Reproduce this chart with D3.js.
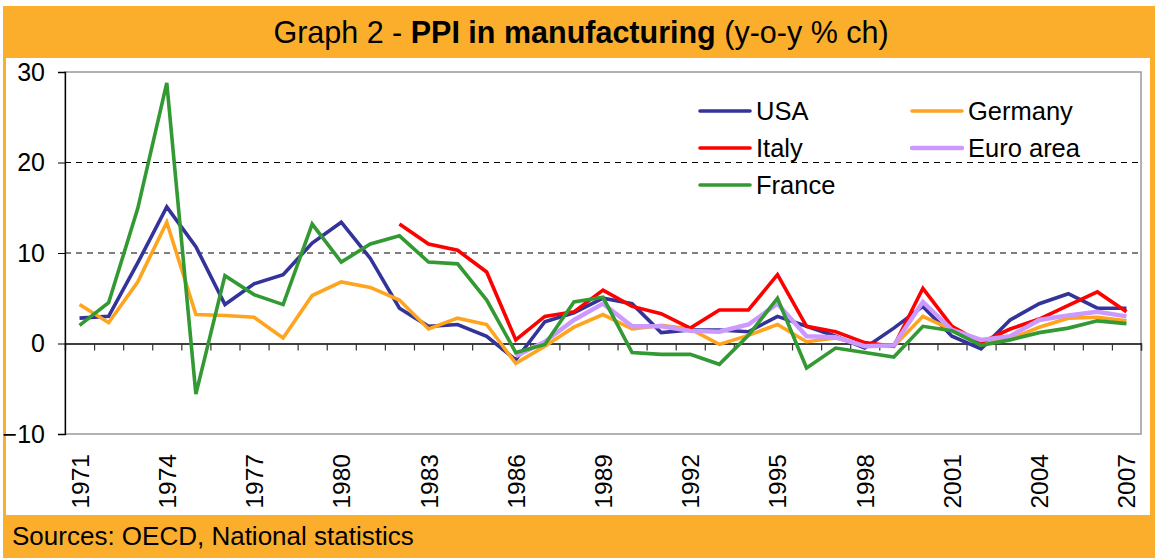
<!DOCTYPE html>
<html>
<head>
<meta charset="utf-8">
<script src="https://cdn.jsdelivr.net/npm/d3@7"></script>
<style>
  body { margin: 0; background: #fff; }
  svg { display: block; font-family: "Liberation Sans", Arial, sans-serif; }
</style>
</head>
<body>
<div id="chart"></div>
<script>
// Data
var years = d3.range(1971, 2008);
var yearLabels = [1971, 1974, 1977, 1980, 1983, 1986, 1989, 1992, 1995, 1998, 2001, 2004, 2007];
var yTicks = [-10, 0, 10, 20, 30];

var usa = [2.8, 3.0, 8.9, 15.1, 10.7, 4.3, 6.6, 7.6, 11.1, 13.4, 9.4, 3.9, 1.9, 2.1, 0.8, -1.8, 2.4, 3.4, 5.0, 4.4,
  1.2, 1.5, 1.5, 1.3, 3.0, 1.9, 0.8, -0.5, 1.7, 4.1, 0.8, -0.6, 2.6, 4.4, 5.5, 3.9, 3.9];
var germany = [4.3, 2.3, 6.8, 13.4, 3.2, 3.1, 2.9, 0.6, 5.3, 6.8, 6.2, 4.8, 1.6, 2.8, 2.1, -2.2, -0.3, 1.8, 3.2, 1.6,
  2.0, 1.6, -0.1, 0.9, 2.1, 0.2, 0.6, -0.2, -0.3, 3.0, 1.5, 0.2, 0.5, 1.8, 2.8, 2.9, 2.5];
var italy = [null, null, null, null, null, null, null, null, null, null, null, 13.2, 11.0, 10.3, 7.9, 0.4, 3.0, 3.5, 5.9, 4.1,
  3.3, 1.7, 3.7, 3.7, 7.6, 1.9, 1.3, 0.1, -0.3, 6.1, 1.9, 0.1, 1.6, 2.7, 4.2, 5.7, 3.5];
var euroArea = [null, null, null, null, null, null, null, null, null, null, null, null, null, null, null, -1.4, 0.2, 2.6, 4.4, 1.9,
  1.9, 1.4, 1.3, 2.1, 4.4, 0.8, 0.7, -0.3, -0.2, 4.6, 1.5, 0.4, 0.8, 2.6, 3.1, 3.5, 3.0];
var france = [2.0, 4.5, 14.9, 28.8, -5.6, 7.5, 5.4, 4.3, 13.2, 9.0, 11.0, 11.9, 9.0, 8.8, 4.8, -1.0, -0.1, 4.6, 5.1, -1.0,
  -1.2, -1.2, -2.3, 0.9, 5.0, -2.7, -0.5, -1.0, -1.5, 1.9, 1.4, -0.2, 0.4, 1.2, 1.7, 2.5, 2.2];

var names = ["USA", "Germany", "Italy", "Euro area", "France"];
var colors = ["#333399", "#FFA41F", "#FF0000", "#CC99FF", "#339933"];
var widths = [3.6, 3.6, 3.6, 4.4, 3.6];
var seriesList = [usa, germany, italy, euroArea, france];

var svgWidth = 1155, svgHeight = 558;
var svg = d3.select("#chart").append("svg")
    .attr("width", svgWidth)
    .attr("height", svgHeight);

// orange frame
svg.append("rect")
    .attr("x", 3).attr("y", 6)
    .attr("width", svgWidth - 3).attr("height", svgHeight - 6)
    .attr("fill", "#FBAE2C");
svg.append("rect")
    .attr("x", 6).attr("y", 58)
    .attr("width", 1144).attr("height", 457)
    .attr("fill", "#fff");

// title
var title = svg.append("text")
    .attr("x", 581).attr("y", 43)
    .attr("text-anchor", "middle")
    .attr("font-size", 30.5)
    .attr("fill", "#000");
title.append("tspan").text("Graph 2 - ");
title.append("tspan").attr("font-weight", "bold").text("PPI in manufacturing");
title.append("tspan").text(" (y-o-y % ch)");

// footer
svg.append("text")
    .attr("x", 12).attr("y", 545)
    .attr("font-size", 26)
    .text("Sources: OECD, National statistics");

// plot area
var plotLeft = 65, plotRight = 1141, plotTop = 72, plotBottom = 434;

var xBand = d3.scaleBand()
    .domain(years)
    .range([plotLeft, plotRight]);
var bw = xBand.bandwidth();
var xCenter = d => xBand(d) + bw / 2;

var y = d3.scaleLinear()
    .domain([-10, 30])
    .range([plotBottom, plotTop]);

// plot border
svg.append("rect")
    .attr("x", plotLeft).attr("y", plotTop)
    .attr("width", plotRight - plotLeft).attr("height", plotBottom - plotTop)
    .attr("fill", "none")
    .attr("stroke", "#999")
    .attr("stroke-width", 1.5);

// dashed gridlines
svg.append("g")
    .selectAll("line")
    .data([10, 20])
    .enter()
    .append("line")
    .attr("x1", plotLeft).attr("x2", plotRight)
    .attr("y1", d => y(d)).attr("y2", d => y(d))
    .attr("stroke", "#000")
    .attr("stroke-width", 1.2)
    .attr("stroke-dasharray", "6,5");

// y axis
var leftAxis = d3.axisLeft(y).tickValues(yTicks).tickSize(7).tickPadding(13);
var yAxisG = svg.append("g")
    .attr("transform", `translate(${plotLeft},0)`)
    .call(leftAxis);
yAxisG.select(".domain").attr("stroke", "#000").attr("stroke-width", 1.3);
yAxisG.selectAll(".tick line").attr("stroke", "#000");
yAxisG.selectAll("text")
    .attr("font-size", 25)
    .attr("font-family", "Liberation Sans, Arial, sans-serif")
    .attr("fill", "#000");

// x axis along zero line, ticks on category boundaries
var xBound = d3.scaleLinear()
    .domain([1970.5, 2007.5])
    .range([plotLeft, plotRight]);
var bottomAxis = d3.axisBottom(xBound)
    .tickValues(d3.range(1971.5, 2008.5, 1))
    .tickSize(7)
    .tickFormat("");
var xAxisG = svg.append("g")
    .attr("transform", `translate(0,${y(0)})`)
    .call(bottomAxis);
xAxisG.select(".domain").attr("stroke", "#000").attr("stroke-width", 1.3);
xAxisG.selectAll(".tick line").attr("stroke", "#333").attr("stroke-width", 1.2);

// year labels below plot
var labelAxis = d3.axisBottom(xBand)
    .tickValues(yearLabels)
    .tickSize(0);
var labG = svg.append("g")
    .attr("transform", `translate(0,${plotBottom})`)
    .call(labelAxis);
labG.select(".domain").remove();
labG.selectAll("text")
    .attr("font-size", 24.5)
    .attr("font-family", "Liberation Sans, Arial, sans-serif")
    .attr("fill", "#000")
    .attr("text-anchor", "end")
    .attr("y", 0)
    .attr("dy", null)
    .attr("transform", "translate(9,20) rotate(-90)");

// lines
var line = d3.line()
    .defined(d => d.v !== null)
    .x(d => xCenter(d.year))
    .y(d => y(d.v));

var linesGroup = svg.append("g");
seriesList.forEach(function(s, i) {
    var pts = years.map((yr, j) => ({ year: yr, v: s[j] }));
    linesGroup.append("path")
        .datum(pts)
        .attr("d", line)
        .attr("fill", "none")
        .attr("stroke", colors[i])
        .attr("stroke-width", widths[i])
        .attr("stroke-linejoin", "miter");
});

// legend
var legendPos = [
    { x: 700, y: 111 },
    { x: 912, y: 111 },
    { x: 700, y: 148 },
    { x: 912, y: 148 },
    { x: 700, y: 185 }
];
var legend = svg.append("g");
names.forEach(function(n, i) {
    var p = legendPos[i];
    legend.append("line")
        .attr("x1", p.x).attr("x2", p.x + 50)
        .attr("y1", p.y).attr("y2", p.y)
        .attr("stroke", colors[i])
        .attr("stroke-width", widths[i])
        .attr("stroke-linecap", "round");
    legend.append("text")
        .attr("x", p.x + 56).attr("y", p.y + 9)
        .attr("font-size", 25.5)
        .text(n);
});
</script>
</body>
</html>
